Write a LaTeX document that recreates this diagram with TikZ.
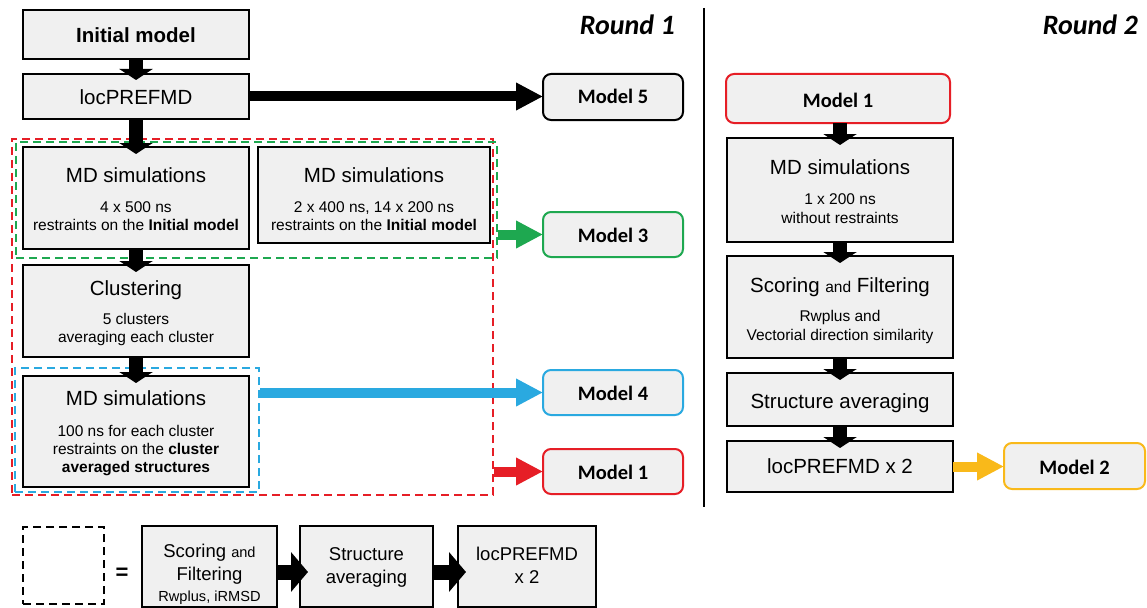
\documentclass[tikz,border=0pt]{standalone}
\usepackage{fontspec}
\setmainfont{Liberation Sans}
\newfontfamily\calfont{Carlito}
\usetikzlibrary{arrows.meta,calc,fit}
\definecolor{boxgray}{RGB}{240,240,240}
\definecolor{myred}{RGB}{230,30,38}
\definecolor{mygreen}{RGB}{30,168,80}
\definecolor{myblue}{RGB}{42,169,224}
\definecolor{myyellow}{RGB}{249,185,26}
\newcommand\fbig{\fontsize{20.5}{24}\selectfont}
\newcommand\fsmall{\fontsize{15.5}{18}\selectfont}
\newcommand\fmid{\fontsize{18.5}{22}\selectfont}
\newcommand\fleg{\fontsize{14.6}{17}\selectfont}
\newcommand\fmodel{\calfont\bfseries\fontsize{20.5}{24}\selectfont}
\tikzset{
  box/.style={draw=black, line width=2, fill=boxgray, inner sep=0, outer sep=0},
  mbox/.style={draw=#1, line width=2, fill=boxgray, rounded corners=8, inner sep=0, outer sep=0},
  txt/.style={anchor=base, inner sep=0, align=center},
  dbox/.style={draw=#1, line width=2, dash pattern=on 8 off 5},
  varrow/.style={draw=black, line width=14, -{Triangle[length=11pt,width=33pt]}},
  harrow/.style={draw=#1, line width=10, -{Triangle[length=27pt,width=26pt]}},
  larrow/.style={draw=black, line width=15, -{Triangle[length=17pt,width=39pt]}},
}
\begin{document}
\begin{tikzpicture}[x=1pt,y=-1pt]
\useasboundingbox (0,0) rectangle (1147,607);
\fill[white] (0,0) rectangle (1147,607);

% ---------- Round 1 ----------
\node[box, fit={(23,10) (249,59)}] (init) {};
\node[txt] (tinit) at (136,43) {\fbig\bfseries Initial model};
\node[box, fit={(23,74) (249,119)}] (loc) {};
\node[txt] (tloc) at (136,105) {\fbig locPREFMD};

\node[box, fit={(23,147) (249,249)}] (md1) {};
\node[txt] (tmd1a) at (136,182) {\fbig MD simulations};
\node[txt] (tmd1b) at (136,212) {\fsmall 4 x 500 ns};
\node[txt] (tmd1c) at (136,230) {\fsmall restraints on the \textbf{Initial model}};

\node[box, fit={(258,147) (490,243)}] (md2) {};
\node[txt] (tmd2a) at (374,182) {\fbig MD simulations};
\node[txt] (tmd2b) at (374,212) {\fsmall 2 x 400 ns, 14 x 200 ns};
\node[txt] (tmd2c) at (374,230) {\fsmall restraints on the \textbf{Initial model}};

\node[box, fit={(23,265) (249,357)}] (clu) {};
\node[txt] (tclua) at (136,295) {\fbig Clustering};
\node[txt] (tclub) at (136,324) {\fsmall 5 clusters};
\node[txt] (tcluc) at (136,342) {\fsmall averaging each cluster};

\node[box, fit={(23,376) (249,487)}] (md3) {};
\node[txt] (tmd3a) at (136,405) {\fbig MD simulations};
\node[txt] (tmd3b) at (136,436) {\fsmall 100 ns for each cluster};
\node[txt] (tmd3c) at (136,454) {\fsmall restraints on the \textbf{cluster}};
\node[txt] (tmd3d) at (136,472) {\fsmall\bfseries averaged structures};

% model boxes
\node[mbox=black, fit={(543,74) (683,120)}] (m5) {};
\node[txt] (tm5) at (613,104) {\fmodel Model 5};
\node[mbox=mygreen, fit={(543,212) (683,257)}] (m3) {};
\node[txt] (tm3) at (613,242) {\fmodel Model 3};
\node[mbox=myblue, fit={(543,370) (683,415)}] (m4) {};
\node[txt] (tm4) at (613,400) {\fmodel Model 4};
\node[mbox=myred, fit={(543,449) (683,494)}] (m1) {};
\node[txt] (tm1) at (613,479) {\fmodel Model 1};

% dashed groups
\node[dbox=myred, fit={(12,139) (493,495)}, inner sep=0] (redg) {};
\node[dbox=mygreen, fit={(16,142) (497,258)}, inner sep=0] (greeng) {};
\node[dbox=myblue, fit={(15,368) (259,492)}, inner sep=0] (blueg) {};

% arrows
\draw[varrow] (init.south) -- ($(loc.north)+(0,6)$);
\draw[varrow] (loc.south) -- ($(md1.north)+(0,7)$);
\draw[varrow] (md1.south) -- ($(clu.north)+(0,7)$);
\draw[varrow] (clu.south) -- ($(md3.north)+(0,7)$);
\draw[harrow=black] (loc.east) -- (m5.west |- loc.east);
\draw[harrow=mygreen] (m3.west -| greeng.east) -- (m3.west);
\draw[harrow=myblue] (m4.west -| blueg.east) -- (m4.west);
\draw[harrow=myred] (m1.west -| redg.east) -- (m1.west);

% titles and divider
\node[anchor=base east, inner sep=0] (r1) at (675,35) {\calfont\bfseries\itshape\fontsize{28}{32}\selectfont Round 1};
\node[anchor=base east, inner sep=0] (r2) at (1138,35) {\calfont\bfseries\itshape\fontsize{28}{32}\selectfont Round 2};
\coordinate (divtop) at (704,8);
\coordinate (divbot) at (704,507);
\draw[line width=1.6] (divtop) -- (divbot);

% ---------- Round 2 ----------
\node[mbox=myred, fit={(726,74) (950,123)}] (n1) {};
\node[txt] (tn1) at (838,107) {\fmodel Model 1};
\node[box, fit={(727,138) (953,242)}] (rmd) {};
\node[txt] (trmda) at (840,174) {\fbig MD simulations};
\node[txt] (trmdb) at (840,204) {\fsmall 1 x 200 ns};
\node[txt] (trmdc) at (840,223) {\fsmall without restraints};
\node[box, fit={(727,256) (953,358)}] (rsc) {};
\node[txt] (trsca) at (840,292) {\fbig Scoring {\fsmall and} Filtering};
\node[txt] (trscb) at (840,321) {\fsmall Rwplus and};
\node[txt] (trscc) at (840,340) {\fsmall Vectorial direction similarity};
\node[box, fit={(727,373) (953,426)}] (rsa) {};
\node[txt] (trsa) at (840,408) {\fbig Structure averaging};
\node[box, fit={(727,441) (953,492)}] (rlx) {};
\node[txt] (trlx) at (840,473) {\fbig locPREFMD x 2};
\node[mbox=myyellow, fit={(1004,443) (1145,489)}] (n2) {};
\node[txt] (tn2) at (1074.5,474) {\fmodel Model 2};

\draw[varrow] (rmd.north |- n1.south) -- ($(rmd.north)+(0,7)$);
\draw[varrow] (rmd.south) -- ($(rsc.north)+(0,7)$);
\draw[varrow] (rsc.south) -- ($(rsa.north)+(0,7)$);
\draw[varrow] (rsa.south) -- ($(rlx.north)+(0,7)$);
\draw[harrow=myyellow] (rlx.east) -- (n2.west |- rlx.east);

% ---------- Legend ----------
\node[dbox=black, fit={(23,527) (104,604)}, inner sep=0] (leg) {};
\node[inner sep=0] (eq) at (122,574) {\fontsize{22}{24}\selectfont\bfseries =};
\node[box, fit={(142,526) (277,607)}] (l1) {};
\node[txt] (tl1a) at (209.5,557) {\fmid Scoring {\fleg and}};
\node[txt] (tl1b) at (209.5,580) {\fmid Filtering};
\node[txt] (tl1c) at (209.5,601) {\fleg Rwplus, iRMSD};
\node[box, fit={(300,526) (433,607)}] (l2) {};
\node[txt] (tl2a) at (366.5,560) {\fmid Structure};
\node[txt] (tl2b) at (366.5,583) {\fmid averaging};
\node[box, fit={(458,526) (596,607)}] (l3) {};
\node[txt] (tl3a) at (527,560) {\fmid locPREFMD};
\node[txt] (tl3b) at (527,583) {\fmid x 2};
\draw[larrow] (l1.east |- 0,572) -- ($(l2.west |- 0,572)+(8,0)$);
\draw[larrow] (l2.east |- 0,572) -- ($(l3.west |- 0,572)+(8,0)$);
\end{tikzpicture}
\end{document}
